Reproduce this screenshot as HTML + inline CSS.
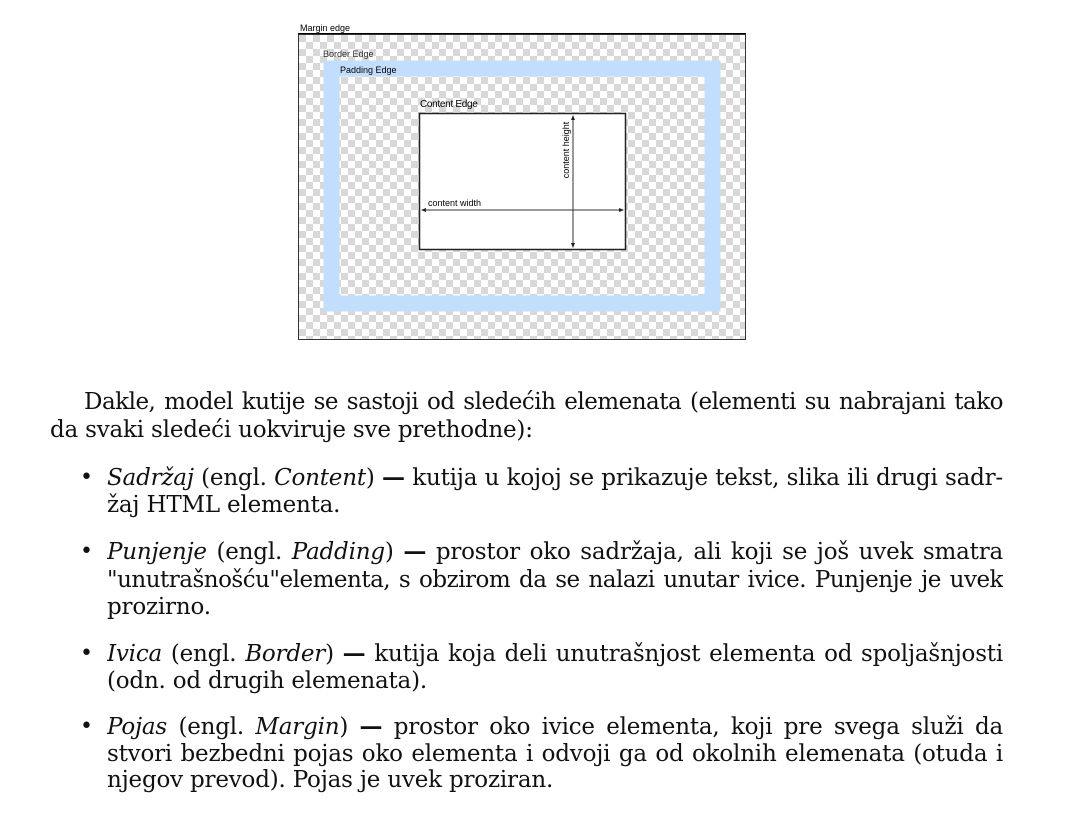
<!DOCTYPE html>
<html><head><meta charset="utf-8"><style>
body{margin:0;width:1087px;height:814px;background:#fff;position:relative;overflow:hidden;font-family:"DejaVu Serif","Liberation Serif",serif;color:#111}
.l{position:absolute;font-size:23px;letter-spacing:-0.2px;white-space:nowrap;line-height:28px}
.j{text-align:justify;text-align-last:justify;white-space:normal;height:28px;overflow:hidden}
.b{position:absolute;font-size:22px;left:80px;line-height:28px}
.d{font-family:"Liberation Sans",sans-serif;position:absolute;font-size:9px;color:#000}
</style></head><body>
<svg width="1087" height="360" style="position:absolute;left:0;top:0">
<defs><pattern id="c" width="14" height="14" patternUnits="userSpaceOnUse" x="299" y="35">
<rect width="14" height="14" fill="#fff"/><rect width="7" height="7" fill="#d8d8d8"/><rect x="7" y="7" width="7" height="7" fill="#d8d8d8"/></pattern></defs>
<rect x="298.5" y="34.5" width="447" height="305" fill="url(#c)" stroke="#333"/>
<line x1="298" y1="33.5" x2="746" y2="33.5" stroke="#000"/>
<rect x="331.5" y="68.5" width="381" height="235" fill="none" stroke="#c2defc" stroke-width="16"/>
<rect x="419.5" y="113.5" width="206" height="136" fill="#fff" stroke="#222" stroke-width="1.5"/>
<line x1="573" y1="116" x2="573" y2="247" stroke="#333"/>
<line x1="422" y1="210" x2="623" y2="210" stroke="#333"/>
<path d="M573 115l-2 5h4zM573 248l-2-5h4zM421 210l5-2v4zM624 210l-5-2v4z" fill="#222"/>
</svg>
<div class="d" style="left:300px;top:23px">Margin edge</div>
<div class="d" style="left:323px;top:49px;color:#333">Border Edge</div>
<div class="d" style="left:340px;top:65px">Padding Edge</div>
<div class="d" style="left:420px;top:99px;font-size:10px;letter-spacing:-0.3px">Content Edge</div>
<div class="d" style="left:428px;top:198px">content width</div>
<div class="d" style="left:526px;top:145px;transform:rotate(-90deg);width:80px;text-align:center">content height</div>

<div class="l j" style="left:84px;top:388px;width:919px;letter-spacing:-0.5px">Dakle, model kutije se sastoji od sledećih elemenata (elementi su nabrajani tako</div>
<div class="l" style="left:50px;top:416px">da svaki sledeći uokviruje sve prethodne):</div>

<div class="b" style="top:464px">•</div>
<div class="l j" style="left:107px;top:464px;width:896px"><i>Sadržaj</i> (engl. <i>Content</i>) <b>—</b> kutija u kojoj se prikazuje tekst, slika ili drugi sadr-</div>
<div class="l" style="left:107px;top:491px">žaj HTML elementa.</div>

<div class="b" style="top:538px">•</div>
<div class="l j" style="left:107px;top:538px;width:896px"><i>Punjenje</i> (engl. <i>Padding</i>) <b>—</b> prostor oko sadržaja, ali koji se još uvek smatra</div>
<div class="l j" style="left:107px;top:566px;width:896px;letter-spacing:-0.5px">"unutrašnošću"elementa, s obzirom da se nalazi unutar ivice. Punjenje je uvek</div>
<div class="l" style="left:107px;top:593px">prozirno.</div>

<div class="b" style="top:640px">•</div>
<div class="l j" style="left:107px;top:640px;width:896px"><i>Ivica</i> (engl. <i>Border</i>) <b>—</b> kutija koja deli unutrašnjost elementa od spoljašnjosti</div>
<div class="l" style="left:107px;top:667px">(odn. od drugih elemenata).</div>

<div class="b" style="top:713px">•</div>
<div class="l j" style="left:107px;top:713px;width:896px"><i>Pojas</i> (engl. <i>Margin</i>) <b>—</b> prostor oko ivice elementa, koji pre svega služi da</div>
<div class="l j" style="left:107px;top:740px;width:896px">stvori bezbedni pojas oko elementa i odvoji ga od okolnih elemenata (otuda i</div>
<div class="l" style="left:107px;top:766px">njegov prevod). Pojas je uvek proziran.</div>
</body></html>
